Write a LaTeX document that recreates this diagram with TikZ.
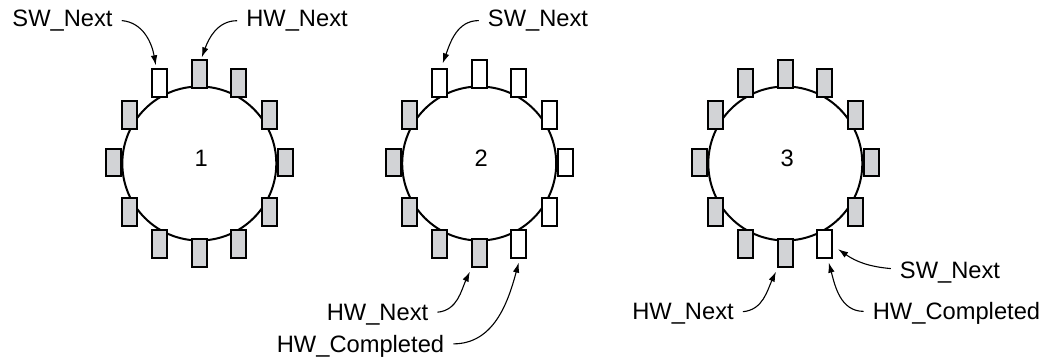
\documentclass[tikz,border=0pt]{standalone}
\usepackage{fontspec}
\setmainfont{Liberation Sans}
\usetikzlibrary{arrows.meta}
\definecolor{slotgray}{RGB}{210,211,214}
\begin{document}
\begin{tikzpicture}[x=1pt,y=1pt,
  ring/.style={circle,draw,line width=2pt,minimum size=154pt,inner sep=0pt},
  slot/.style={draw,line width=1.7pt,minimum width=15pt,minimum height=27.6pt,inner sep=0pt},
  full/.style={slot,fill=slotgray},
  empty/.style={slot,fill=white},
  lbl/.style={inner xsep=9pt,inner ysep=0pt,font=\fontsize{23.7}{28}\selectfont},
  num/.style={inner sep=0pt,font=\fontsize{23.7}{28}\selectfont},
  arr/.style={line width=1.1pt,-{Latex[length=10pt,width=6.5pt]}}]
\useasboundingbox (0,0) rectangle (1052,-358);
% rings
\node[ring] (c1) at (199.3,-163.5) {};
\node[ring] (c2) at (479.2,-163.5) {};
\node[ring] (c3) at (785.3,-163.5) {};
\node[num,anchor=base] (n1) at (201.3,-166.5) {1};
\node[num,anchor=base] (n2) at (481.2,-166.5) {2};
\node[num,anchor=base] (n3) at (787.3,-166.5) {3};
% slots
\foreach \a/\dx/\dy/\sA/\sB/\sC in {
  0/86/1/full/empty/full,
  30/70/48.5/full/empty/full,
  60/39.5/80.5/full/empty/full,
  90/0/89.5/full/empty/full,
  120/-39.5/80.5/empty/empty/full,
  150/-70/48.5/full/full/full,
  180/-86/1/full/full/full,
  210/-70/-48.5/full/full/full,
  240/-39.5/-80.5/full/full/full,
  270/0/-89.5/full/full/full,
  300/39.5/-80.5/full/empty/empty,
  330/70/-48.5/full/empty/full}{
  \node[\sA] (r1-\a) at (199.3+\dx,-163.5+\dy) {};
  \node[\sB] (r2-\a) at (479.2+\dx,-163.5+\dy) {};
  \node[\sC] (r3-\a) at (785.3+\dx,-163.5+\dy) {};
}
% labels
\node[lbl,anchor=base] (s1) at (62.5,-26.5) {SW\_Next};
\node[lbl,anchor=base] (h1) at (297,-26.5) {HW\_Next};
\node[lbl,anchor=base] (s2) at (538,-26.5) {SW\_Next};
\node[lbl,anchor=base] (h2) at (377.5,-320) {HW\_Next};
\node[lbl,anchor=base] (k2) at (360.5,-352) {HW\_Completed};
\node[lbl,anchor=base] (s3) at (950,-278.5) {SW\_Next};
\node[lbl,anchor=base] (h3) at (683,-319.5) {HW\_Next};
\node[lbl,anchor=base] (k3) at (956.5,-319.5) {HW\_Completed};
% arrows
\draw[arr] (s1.east) to[out=-5,in=100] ([xshift=-4pt,yshift=3pt]r1-120.north);
\draw[arr] (h1.west) to[out=180,in=70] ([xshift=2.5pt,yshift=2pt]r1-90.north);
\draw[arr] (s2.west) to[out=180,in=70] ([xshift=3pt,yshift=5pt]r2-120.north);
\draw[arr] ([yshift=2pt]h2.east) to[out=5,in=-115] ([xshift=-1pt,yshift=-4pt]r2-270.south west);
\draw[arr] ([yshift=2pt]k2.east) to[out=0,in=-105] ([yshift=-4pt]r2-300.south);
\draw[arr] ([yshift=4pt]s3.west) to[out=175,in=-35] ([xshift=5pt,yshift=9.5pt]r3-300.south east);
\draw[arr] ([yshift=2pt]k3.west) to[out=180,in=-75] ([xshift=4pt,yshift=-4pt]r3-300.south);
\draw[arr] ([yshift=2pt]h3.east) to[out=5,in=-115] ([xshift=-1pt,yshift=-4pt]r3-270.south west);
\end{tikzpicture}
\end{document}
